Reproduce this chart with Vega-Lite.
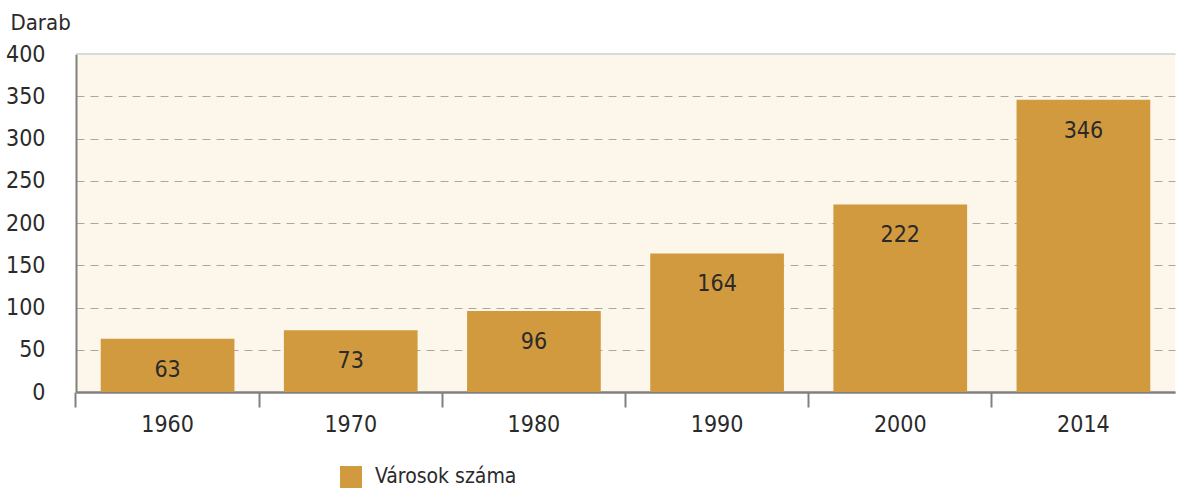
{
  "$schema": "https://vega.github.io/schema/vega-lite/v6.json",
  "width": 1099,
  "height": 338,
  "padding": {"left": 76, "top": 54, "right": 7, "bottom": 101},
  "autosize": {"type": "none"},
  "background": "white",
  "config": {
    "view": {"fill": "#FDF6EA", "stroke": null},
    "font": "'DejaVu Sans Condensed', 'Liberation Sans', sans-serif"
  },
  "data": {
    "values": [
      {"ev": "1960", "darab": 63, "sorozat": "Városok száma"},
      {"ev": "1970", "darab": 73, "sorozat": "Városok száma"},
      {"ev": "1980", "darab": 96, "sorozat": "Városok száma"},
      {"ev": "1990", "darab": 164, "sorozat": "Városok száma"},
      {"ev": "2000", "darab": 222, "sorozat": "Városok száma"},
      {"ev": "2014", "darab": 346, "sorozat": "Városok száma"}
    ]
  },
  "layer": [
    {
      "mark": {"type": "rule", "color": "#DADADA", "strokeWidth": 2},
      "encoding": {"y": {"datum": 400, "type": "quantitative"}}
    },
    {
      "mark": {"type": "bar"},
      "encoding": {
        "x": {
          "field": "ev", "type": "nominal",
          "scale": {"paddingInner": 0.27, "paddingOuter": 0.135},
          "axis": {
            "title": null, "labelAngle": 0, "bandPosition": -0.185,
            "domainColor": "#808080", "domainWidth": 2.5,
            "tickColor": "#808080", "tickWidth": 2, "tickSize": 15,
            "labelFontSize": 23, "labelColor": "#2a2a2a", "labelPadding": 6
          }
        },
        "y": {
          "field": "darab", "type": "quantitative",
          "scale": {"domain": [0, 400], "nice": false},
          "axis": {
            "values": [0, 50, 100, 150, 200, 250, 300, 350, 400],
            "title": "Darab", "titleAngle": 0, "titleX": -66, "titleY": -32,
            "titleAlign": "left", "titleBaseline": "middle",
            "titleFontSize": 22, "titleFontWeight": "normal", "titleColor": "#2a2a2a",
            "labelFontSize": 23, "labelColor": "#2a2a2a", "labelPadding": 31,
            "ticks": false, "domainColor": "#808080", "domainWidth": 2,
            "grid": true, "gridColor": "#A8A8A8", "gridDash": [8, 6], "gridWidth": 1
          }
        },
        "color": {
          "field": "sorozat", "type": "nominal",
          "scale": {"range": ["#D29A3F"]},
          "legend": {
            "title": null, "orient": "none", "legendX": 264, "legendY": 412,
            "symbolType": "square", "symbolSize": 484, "symbolStrokeWidth": 0,
            "labelFontSize": 21, "labelColor": "#2a2a2a", "labelOffset": 13
          }
        }
      }
    },
    {
      "mark": {"type": "text", "baseline": "middle", "dy": 31, "fontSize": 23, "color": "#2a2a2a"},
      "encoding": {
        "x": {"field": "ev", "type": "nominal"},
        "y": {"field": "darab", "type": "quantitative"},
        "text": {"field": "darab", "type": "quantitative"}
      }
    }
  ]
}
